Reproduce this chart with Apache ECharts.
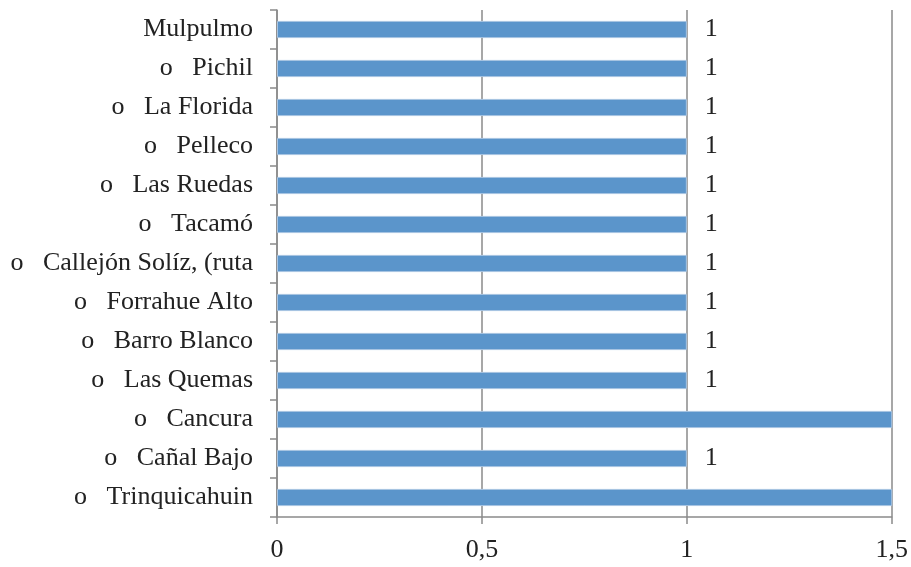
<!DOCTYPE html>
<html>
<head>
<meta charset="utf-8">
<script src="https://cdn.jsdelivr.net/npm/echarts@6/dist/echarts.min.js"></script>
<style>
html,body{margin:0;padding:0;background:#fff;}
#chart{width:911px;height:567px;}
</style>
</head>
<body>
<div id="chart"></div>
<script>
// categorias de arriba hacia abajo
var categorias = [
	'Mulpulmo',
	'o   Pichil',
	'o   La Florida',
	'o   Pelleco',
	'o   Las Ruedas',
	'o   Tacamó',
	'o   Callejón Solíz, (ruta',
	'o   Forrahue Alto',
	'o   Barro Blanco',
	'o   Las Quemas',
	'o   Cancura',
	'o   Cañal Bajo',
	'o   Trinquicahuin'
];
var valores = [1, 1, 1, 1, 1, 1, 1, 1, 1, 1, 2, 1, 2];
var ejeMax = 1.5;
var ejeIntervalo = 0.5;

var fuente = '"Liberation Serif", serif';
var gris = '#8a8a8a';

var myChart = echarts.init(document.getElementById('chart'));
myChart.setOption({
	animation: false,
	grid: {left: 277, right: 19, top: 10, bottom: 50},
	xAxis: {
		type: 'value',
		min: 0,
		max: ejeMax,
		interval: ejeIntervalo,
		axisLine: {show: true, lineStyle: {color: gris, width: 1.5}},
		axisTick: {show: true, length: 7, lineStyle: {color: gris, width: 1.5}},
		splitLine: {show: true, lineStyle: {color: gris, width: 1.5}},
		axisLabel: {
			color: '#222', fontFamily: fuente, fontSize: 26, margin: 20,
			formatter: function (v) { return String(v).replace('.', ','); }
		}
	},
	yAxis: {
		type: 'category',
		inverse: true,
		data: categorias,
		axisLine: {show: true, lineStyle: {color: gris, width: 1.5}},
		axisTick: {show: true, length: 7, lineStyle: {color: gris, width: 1.5}},
		axisLabel: {color: '#222', fontFamily: fuente, fontSize: 26, margin: 24}
	},
	series: [{
		type: 'bar',
		data: valores,
		barCategoryGap: '56%',
		itemStyle: {color: '#5b95cb', borderColor: '#a8c4e2', borderWidth: 1},
		label: {
			show: true, position: 'right', distance: 18,
			color: '#222', fontFamily: fuente, fontSize: 26,
			formatter: function (p) { return p.value > ejeMax ? '' : String(p.value); }
		}
	}]
});
</script>
</body>
</html>
